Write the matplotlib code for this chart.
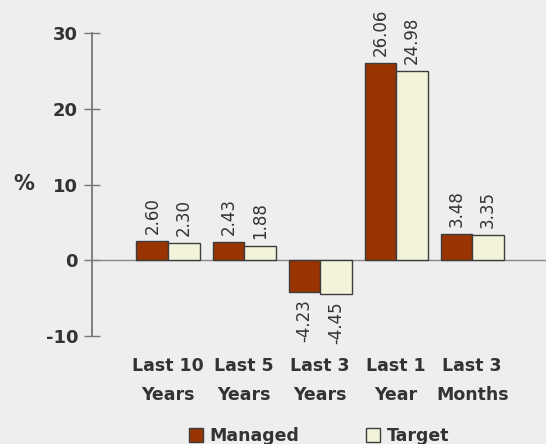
import matplotlib
matplotlib.use("Agg")
from matplotlib import pyplot as plt
from matplotlib.lines import Line2D
from matplotlib.transforms import blended_transform_factory
import numpy as np

#############
# The data  #
#############

periods = ["Last 10\nYears", "Last 5\nYears", "Last 3\nYears", "Last 1\nYear", "Last 3\nMonths"]
managed = [2.60, 2.43, -4.23, 26.06, 3.48]
target = [2.30, 1.88, -4.45, 24.98, 3.35]
yticks = [-10, 0, 10, 20, 30]

bg = "#eeeeee"
managedColor = "#993300"
targetColor = "#f3f3dc"
edge = "#3c3c3c"
textColor = "#333333"

#########################
# Create plotting stuff #
#########################

fig = plt.figure(figsize=(5.46, 4.44), dpi=100, facecolor=bg)
ax = fig.add_axes([92/546, 108/444, 454/546, 303/444], facecolor=bg)

x = np.arange(len(periods))
w = 0.415

barsM = ax.bar(x - w/2, managed, w, color=managedColor, edgecolor=edge, linewidth=1, zorder=3)
barsT = ax.bar(x + w/2, target, w, color=targetColor, edgecolor=edge, linewidth=1, zorder=3)

def labelBars(bars, vals):
    for b, v in zip(bars, vals):
        cx = b.get_x() + b.get_width()/2
        off = 5 if v >= 0 else -5
        ax.annotate("%.2f" % v, (cx, v), xytext=(0, off), textcoords="offset points",
                    rotation=90, ha="center", va="bottom" if v >= 0 else "top",
                    fontsize=12, color=textColor, annotation_clip=False)

labelBars(barsM, managed)
labelBars(barsT, target)

ax.axhline(0, color="#888888", linewidth=1, zorder=2)

ax.set_xlim(-1.0, 4.97)
ax.set_ylim(-10, 30)
ax.set_yticks(yticks)
ax.set_yticklabels([str(t) for t in yticks], fontsize=13, fontweight="bold", color=textColor)
ax.tick_params(axis="y", direction="inout", length=12, width=1, color="#777777", pad=4)

ax.set_xticks(x)
ax.set_xticklabels(periods, fontsize=12.5, fontweight="bold", color=textColor, linespacing=1.83)
ax.tick_params(axis="x", length=0, pad=15)

for s in ["top", "right", "bottom"]:
    ax.spines[s].set_visible(False)
ax.spines["left"].set_color("#777777")
ax.spines["left"].set_linewidth(1.3)

trans = blended_transform_factory(ax.transAxes, ax.transData)
ax.text(-0.15, 10, "%", transform=trans, ha="center", va="center",
        fontsize=15, fontweight="bold", color=textColor)

handles = [Line2D([], [], linestyle="none", marker="s", markersize=10,
                  markerfacecolor=managedColor, markeredgecolor=edge, markeredgewidth=1),
           Line2D([], [], linestyle="none", marker="s", markersize=10,
                  markerfacecolor=targetColor, markeredgecolor=edge, markeredgewidth=1)]
fig.legend(handles, ["Managed", "Target"], loc="center", bbox_to_anchor=(319/546, 8/444),
           ncol=2, frameon=False, handlelength=0.8, handletextpad=0.4, columnspacing=3.85,
           prop={"size": 12.5, "weight": "bold"}, labelcolor=textColor, borderpad=0)

fig.savefig("out.png", dpi=100, facecolor=bg)
